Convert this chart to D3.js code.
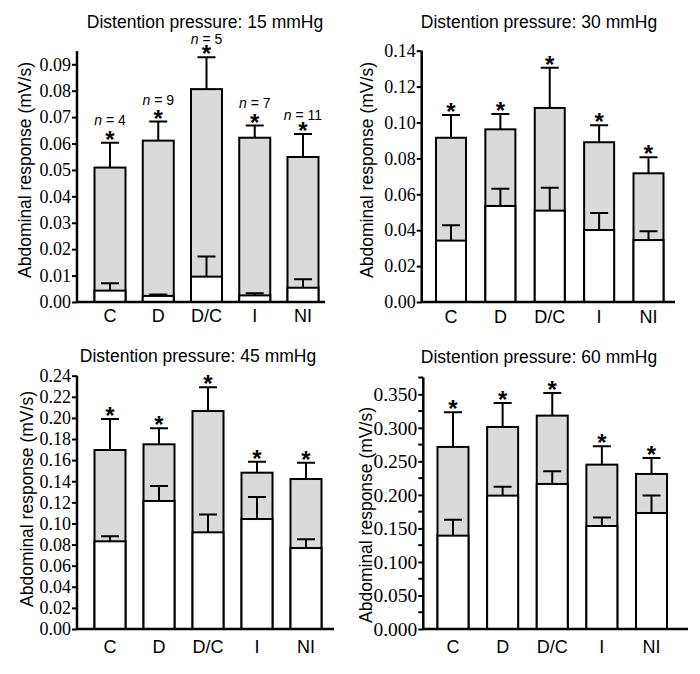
<!DOCTYPE html>
<html>
<head>
<meta charset="utf-8">
<script src="https://cdn.jsdelivr.net/npm/d3@7"></script>
<style>
  body { margin: 0; background: #fff; }
  svg { display: block; }
  .sans { font-family: "Liberation Sans", Arial, sans-serif; }
</style>
</head>
<body>
<div id="chart"></div>
<script>
// groups on the x axis
const categories = ["C", "D", "D/C", "I", "NI"];
const pressures = [15, 30, 45, 60];
const nLabels = [4, 9, 5, 7, 11];   // only shown on the 15 mmHg panel

// grey bars: response during distention (mean, SEM)
const total15 = [0.0509, 0.0611, 0.0806, 0.0622, 0.0549];
const totalErr15 = [0.0094, 0.0072, 0.0121, 0.0046, 0.0087];
const total30 = [0.0915, 0.0962, 0.1081, 0.0890, 0.0717];
const totalErr30 = [0.0127, 0.0085, 0.0224, 0.0094, 0.0089];
const total45 = [0.1696, 0.1750, 0.2065, 0.1481, 0.1421];
const totalErr45 = [0.0294, 0.0151, 0.0225, 0.0104, 0.0155];
const total60 = [0.2715, 0.3013, 0.3182, 0.2451, 0.2312];
const totalErr60 = [0.0517, 0.0358, 0.0338, 0.0274, 0.0238];

// white bars: baseline response (mean, SEM)
const base15 = [0.0043, 0.0023, 0.0096, 0.0025, 0.0054];
const baseErr15 = [0.0028, 0.0005, 0.0076, 0.0008, 0.0032];
const base30 = [0.0342, 0.0535, 0.0509, 0.0401, 0.0345];
const baseErr30 = [0.0085, 0.0096, 0.0128, 0.0095, 0.0049];
const base45 = [0.0831, 0.1213, 0.0916, 0.1042, 0.0767];
const baseErr45 = [0.0047, 0.0142, 0.0170, 0.0209, 0.0083];
const base60 = [0.1392, 0.1989, 0.2163, 0.1536, 0.1730];
const baseErr60 = [0.0239, 0.0134, 0.0189, 0.0125, 0.0259];

// tick labels per panel
const ticks15 = [0, 0.01, 0.02, 0.03, 0.04, 0.05, 0.06, 0.07, 0.08, 0.09];
const ticks30 = [0, 0.02, 0.04, 0.06, 0.08, 0.10, 0.12, 0.14];
const ticks45 = [0, 0.02, 0.04, 0.06, 0.08, 0.10, 0.12, 0.14, 0.16, 0.18, 0.20, 0.22, 0.24];
const ticks60 = [0, 0.05, 0.10, 0.15, 0.20, 0.25, 0.30, 0.35];
const minorTicks60 = [0.025, 0.075, 0.125, 0.175, 0.225, 0.275, 0.325, 0.375];

const width = 700, height = 674;
const grey = "#dadada";
const serif = "'Liberation Serif', 'DejaVu Serif', 'Times New Roman', serif";

const svg = d3.select("#chart").append("svg")
    .attr("width", width)
    .attr("height", height);

// layout of each panel (pixels)
const panels = [
  { p: pressures[0], total: total15, totalErr: totalErr15, base: base15, baseErr: baseErr15,
    ticks: ticks15, minor: [], fmt: ".2f", tickFont: 18, showN: true,
    nDy: [-18, -17, -13, -18, -14],
    axisX: 77, xEnd: 325, yBase: 302, yTopVal: 0.09, yTopPx: 64.3, axisMax: 0.095,
    centers: [110, 303], barW: 31, titleX: 205, titleY: 28, labelX: 31, labelY: 170, catDy: 20 },
  { p: pressures[1], total: total30, totalErr: totalErr30, base: base30, baseErr: baseErr30,
    ticks: ticks30, minor: [], fmt: ".2f", tickFont: 18, showN: false,
    axisX: 421.7, xEnd: 675, yBase: 302, yTopVal: 0.14, yTopPx: 50.7, axisMax: 0.14,
    centers: [451, 648.5], barW: 30, titleX: 539, titleY: 28, labelX: 373, labelY: 170, catDy: 21 },
  { p: pressures[2], total: total45, totalErr: totalErr45, base: base45, baseErr: baseErr45,
    ticks: ticks45, minor: [], fmt: ".2f", tickFont: 18, showN: false,
    axisX: 77, xEnd: 334, yBase: 629, yTopVal: 0.24, yTopPx: 375.7, axisMax: 0.24,
    centers: [110, 306], barW: 31, titleX: 198, titleY: 362, labelX: 33, labelY: 499, catDy: 24 },
  { p: pressures[3], total: total60, totalErr: totalErr60, base: base60, baseErr: baseErr60,
    ticks: ticks60, minor: minorTicks60, fmt: ".3f", tickFont: 19.5, showN: false,
    axisX: 423.3, xEnd: 688, yBase: 629, yTopVal: 0.35, yTopPx: 394.3, axisMax: 0.375,
    centers: [453, 651.5], barW: 31, titleX: 539, titleY: 363, labelX: 372, labelY: 515, catDy: 24 }
];

function errPath(cx, y0, y1) {
  return `M${cx},${y0}V${y1}M${cx - 9},${y1}H${cx + 9}`;
}

panels.forEach(function(cfg) {
  const g = svg.append("g");

  const y = d3.scaleLinear()
      .domain([0, cfg.yTopVal])
      .range([cfg.yBase, cfg.yTopPx]);

  const x = d3.scalePoint()
      .domain(categories)
      .range(cfg.centers);

  const rows = categories.map((c, i) => ({
    cat: c, i: i, total: cfg.total[i], totalErr: cfg.totalErr[i],
    base: cfg.base[i], baseErr: cfg.baseErr[i], n: nLabels[i]
  }));

  // grey bars (full response)
  g.selectAll("rect.total")
    .data(rows)
    .join("rect")
      .attr("class", "total")
      .attr("x", d => x(d.cat) - cfg.barW / 2)
      .attr("y", d => y(d.total))
      .attr("width", cfg.barW)
      .attr("height", d => y(0) - y(d.total))
      .attr("fill", grey)
      .attr("stroke", "#000")
      .attr("stroke-width", 2);

  g.selectAll("path.totalErr")
    .data(rows)
    .join("path")
      .attr("class", "totalErr")
      .attr("d", d => errPath(x(d.cat), y(d.total), y(d.total + d.totalErr)))
      .attr("fill", "none")
      .attr("stroke", "#000")
      .attr("stroke-width", 2);

  // white bars (baseline)
  g.selectAll("rect.base")
    .data(rows)
    .join("rect")
      .attr("class", "base")
      .attr("x", d => x(d.cat) - cfg.barW / 2)
      .attr("y", d => y(d.base))
      .attr("width", cfg.barW)
      .attr("height", d => y(0) - y(d.base))
      .attr("fill", "#fff")
      .attr("stroke", "#000")
      .attr("stroke-width", 2);

  g.selectAll("path.baseErr")
    .data(rows)
    .join("path")
      .attr("class", "baseErr")
      .attr("d", d => errPath(x(d.cat), y(d.base), y(d.base + d.baseErr)))
      .attr("fill", "none")
      .attr("stroke", "#000")
      .attr("stroke-width", 2);

  // significance stars (with n above them on the first panel)
  const stars = g.selectAll("text.star")
    .data(rows)
    .join("text")
      .attr("class", "star sans")
      .attr("text-anchor", "middle");

  if (cfg.showN) {
    stars.each(function(d) {
      const t = d3.select(this);
      const cx = x(d.cat), cap = y(d.total + d.totalErr);
      t.append("tspan")
          .attr("x", cx).attr("y", cap + cfg.nDy[d.i])
          .attr("font-size", 14)
          .attr("font-style", "italic").text("n");
      t.append("tspan")
          .attr("font-size", 14).text(" = " + d.n);
      t.append("tspan")
          .attr("x", cx).attr("y", cap + 5)
          .attr("font-size", 24).attr("font-weight", "bold")
          .text("*");
    });
  } else {
    stars
      .attr("x", d => x(d.cat))
      .attr("y", d => y(d.total + d.totalErr) + 5)
      .attr("font-weight", "bold")
      .attr("font-size", 24)
      .text("*");
  }

  // y axis
  const yAxis = g.append("g")
      .attr("transform", `translate(${cfg.axisX},0)`)
      .call(d3.axisLeft(y)
        .tickValues(cfg.ticks)
        .tickFormat(d3.format(cfg.fmt))
        .tickSize(5)
        .tickPadding(1));
  yAxis.attr("font-family", serif).attr("font-size", cfg.tickFont);
  yAxis.select(".domain").remove();
  yAxis.selectAll(".tick line").attr("stroke-width", 2);
  yAxis.selectAll(".tick text")
      .style("font-family", serif)
      .style("font-size", cfg.tickFont + "px")
      .attr("fill", "#000");

  g.selectAll("line.minor")
    .data(cfg.minor)
    .join("line")
      .attr("class", "minor")
      .attr("x1", cfg.axisX - 5)
      .attr("x2", cfg.axisX)
      .attr("y1", d => y(d))
      .attr("y2", d => y(d))
      .attr("stroke", "#000")
      .attr("stroke-width", 2);

  g.append("line")
      .attr("x1", cfg.axisX).attr("x2", cfg.axisX)
      .attr("y1", y(0) + 1).attr("y2", y(cfg.axisMax))
      .attr("stroke", "#000")
      .attr("stroke-width", 2.5);

  // x axis baseline
  g.append("line")
      .attr("x1", cfg.axisX).attr("x2", cfg.xEnd)
      .attr("y1", y(0)).attr("y2", y(0))
      .attr("stroke", "#000")
      .attr("stroke-width", 2.5);

  g.selectAll("text.cat")
    .data(categories)
    .join("text")
      .attr("class", "cat sans")
      .attr("x", d => x(d))
      .attr("y", cfg.yBase + cfg.catDy)
      .attr("text-anchor", "middle")
      .attr("font-size", 18)
      .text(d => d);

  // title
  g.append("text")
      .attr("class", "sans")
      .attr("x", cfg.titleX)
      .attr("y", cfg.titleY)
      .attr("text-anchor", "middle")
      .attr("font-size", 17.5)
      .text(`Distention pressure: ${cfg.p} mmHg`);

  // y label
  g.append("text")
      .attr("class", "sans")
      .attr("transform", `translate(${cfg.labelX},${cfg.labelY}) rotate(-90)`)
      .attr("text-anchor", "middle")
      .attr("font-size", 17.5)
      .text("Abdominal response (mV/s)");
});
</script>
</body>
</html>
